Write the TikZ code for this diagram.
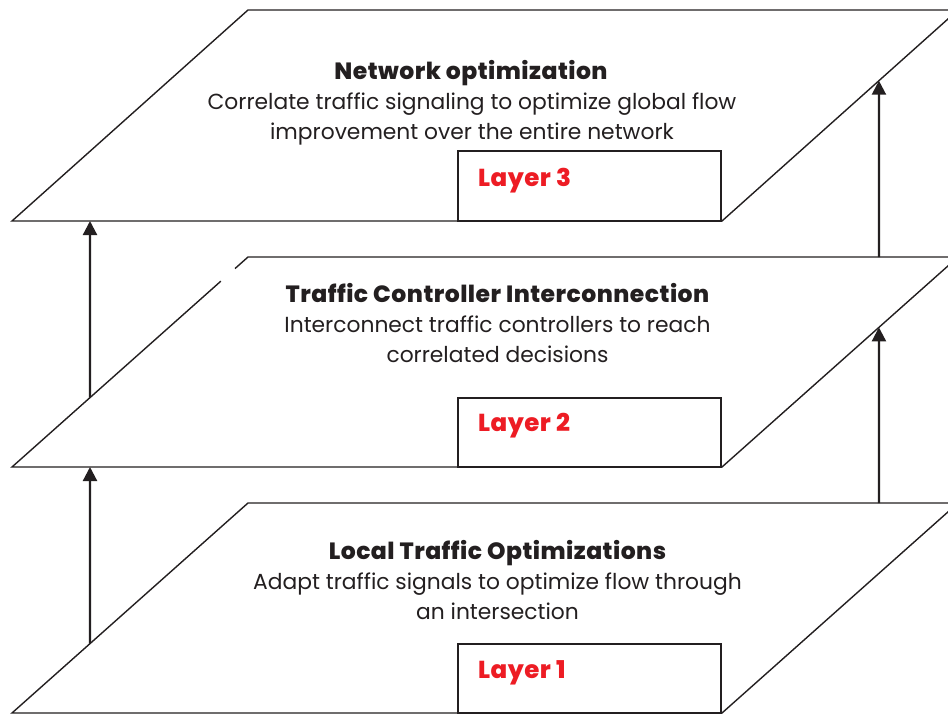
\documentclass[tikz,border=0pt]{standalone}
\usepackage{fontspec}
\setmainfont{Poppins}
\newfontfamily\headfont{Poppins}[UprightFont={* ExtraBold}, LetterSpace=2]
\usetikzlibrary{arrows.meta,calc}
\definecolor{ink}{HTML}{231F20}
\definecolor{layerred}{HTML}{ED1C24}
\tikzset{
  plane/.style={draw=ink, line width=1.4pt, fill=white, line join=miter},
  tab/.style={draw=ink, line width=1.4pt, fill=white},
  uparrow/.style={draw=ink, line width=2.2pt, -{Triangle[length=14pt,width=14pt]}},
  heading/.style={anchor=base, inner sep=0pt, text=ink, font=\headfont\fontsize{23.5}{28}\selectfont},
  desc/.style={anchor=base, inner sep=0pt, text=ink, font=\fontsize{21.8}{26}\selectfont},
  layername/.style={anchor=base west, inner sep=0pt, text=layerred, font=\headfont\fontsize{24.5}{29}\selectfont},
}
\begin{document}
\begin{tikzpicture}[x=1pt,y=-1pt]
\useasboundingbox (0,0) rectangle (948,715);
\begin{scope}
\clip (0,0) rectangle (948,715);

% ---- layer 3 plane ----
\coordinate (p3bl) at (12,221);  \coordinate (p3tl) at (248,10);
\coordinate (p3tr) at (958,10);  \coordinate (p3br) at (722,221);
\path[plane] (p3bl) -- (p3tl) -- (p3tr) -- (p3br) -- cycle;
\path[tab] (458,221) rectangle (721,151);

% ---- layer 2 plane (left edge drawn with a small break) ----
\coordinate (p2bl) at (12,467);  \coordinate (p2tl) at (248,257);
\coordinate (p2tr) at (958,257); \coordinate (p2br) at (722,467);
\fill[white] (p2bl) -- (p2tl) -- (p2tr) -- (p2br) -- cycle;
\draw[draw=ink, line width=1.4pt, line join=miter]
  ($(p2bl)!0.885!(p2tl)$) -- (p2bl) -- (p2br) -- (p2tr) -- (p2tl) -- ($(p2bl)!0.945!(p2tl)$);
\path[tab] (458,467) rectangle (721,398);

% ---- layer 1 plane ----
\coordinate (p1bl) at (12,713);  \coordinate (p1tl) at (248,503);
\coordinate (p1tr) at (958,503); \coordinate (p1br) at (722,713);
\path[plane] (p1bl) -- (p1tl) -- (p1tr) -- (p1br) -- cycle;
\path[tab] (458,713) rectangle (721,644);
\end{scope}

% ---- connector end points on the plane edges ----
\coordinate (a1s) at ($(p1bl)!0.3305!(p1tl)$);
\coordinate (a1e) at (90,467);
\coordinate (a2s) at ($(p2bl)!0.3305!(p2tl)$);
\coordinate (a2e) at (90,221);
\coordinate (a3s) at (879,503);
\coordinate (a3e) at ($(p2br)!0.665!(p2tr)$);
\coordinate (a4s) at (879,257);
\coordinate (a4e) at ($(p3br)!0.665!(p3tr)$);

\draw[uparrow] (a1s) -- (a1e);
\draw[uparrow] (a2s) -- (a2e);
\draw[uparrow] (a3s) -- (a3e);
\draw[uparrow] (a4s) -- (a4e);

% ---- texts ----
\node[heading] (t3) at (471,79) {Network optimization};
\node[desc] (d3a) at (472,109) {Correlate traffic signaling to optimize global flow};
\node[desc] (d3b) at (472,139) {improvement over the entire network};
\node[layername] (n3) at (478,186) {Layer 3};

\node[heading] (t2) at (497.5,302) {Traffic Controller Interconnection};
\node[desc] (d2a) at (497.5,332) {Interconnect traffic controllers to reach};
\node[desc] (d2b) at (497.5,362) {correlated decisions};
\node[layername] (n2) at (478,431) {Layer 2};

\node[heading] (t1) at (497.5,559) {Local Traffic Optimizations};
\node[desc] (d1a) at (497.5,589) {Adapt traffic signals to optimize flow through};
\node[desc] (d1b) at (497.5,619) {an intersection};
\node[layername] (n1) at (478,678) {Layer 1};
\end{tikzpicture}
\end{document}
